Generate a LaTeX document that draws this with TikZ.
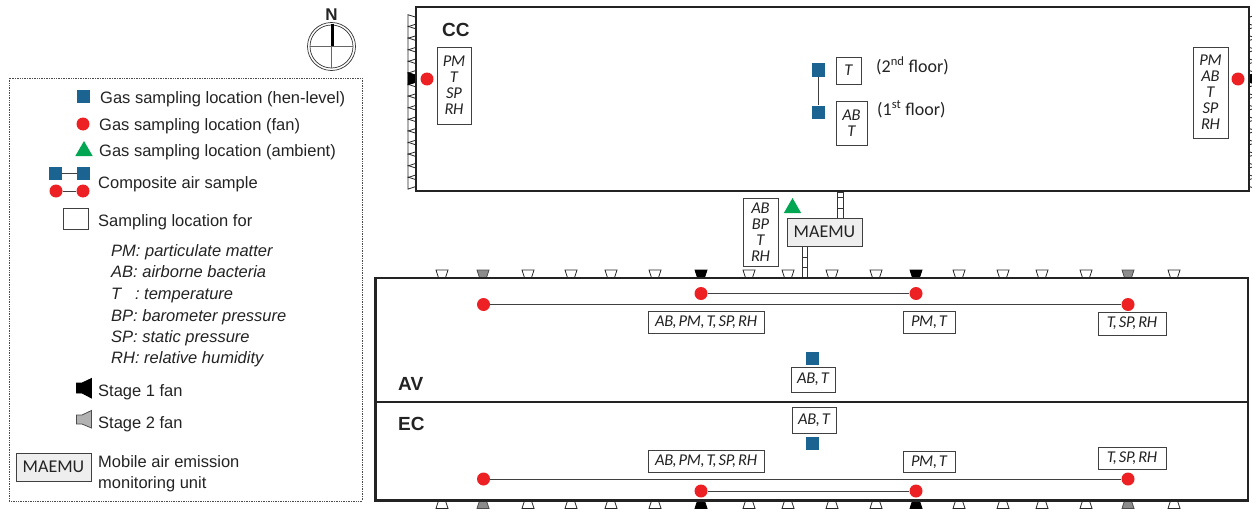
\documentclass[tikz,border=0pt]{standalone}
\usepackage{fontspec}
\setmainfont{Liberation Sans}
\newfontfamily\calfont[WordSpace=0.55, LetterSpace=-2]{Carlito}
\newfontfamily\calwide{Carlito}
\usetikzlibrary{shapes.geometric}
\definecolor{henblue}{RGB}{27, 99, 145}
\definecolor{fanred}{RGB}{237, 32, 36}
\definecolor{ambgreen}{RGB}{0, 166, 81}
\definecolor{inktext}{RGB}{35, 35, 35}
\definecolor{wallink}{RGB}{35, 35, 35}
\definecolor{unitgray}{RGB}{238, 238, 238}
\tikzset{
    wall/.style={draw=wallink, line width=2.2pt},
    partition/.style={draw=wallink, line width=1.7pt},
    henpt/.style={rectangle, fill=henblue, minimum size=13, inner sep=0},
    fanpt/.style={circle, fill=fanred, minimum size=13, inner sep=0},
    ambpt/.style={regular polygon, regular polygon sides=3, fill=ambgreen, minimum size=20, inner sep=0},
    link/.style={draw=black!75, line width=0.9pt},
    tagbox/.style={draw=black!75, line width=0.8pt, inner sep=0, align=center, text=inktext,
        font=\calfont\itshape\fontsize{16.5}{16}\selectfont},
    unitbox/.style={draw=black!75, fill=unitgray, line width=0.8pt, inner sep=0, text=inktext,
        font=\calwide\fontsize{18}{18}\selectfont},
    legtext/.style={anchor=base west, inner sep=0, text=inktext, font=\fontsize{16.5}{16.5}\selectfont},
    legital/.style={legtext, font=\itshape\fontsize{16.5}{16.5}\selectfont},
    floortext/.style={anchor=base west, inner sep=0, text=inktext, font=\calwide\fontsize{18}{18}\selectfont},
    housename/.style={anchor=base west, inner sep=0, text=wallink, font=\bfseries\fontsize{19}{19}\selectfont},
    fanoff/.style={draw=black!85, fill=white, line width=0.8pt},
    fanone/.style={draw=black, fill=black, line width=0.8pt},
    fantwo/.style={draw=black!70, fill=black!45, line width=0.8pt},
    duct/.style={draw=black!80, fill=white, line width=0.7pt},
    fanunit/.pic={\path[pic actions] (-6,-8) -- (6,-8) -- (3.4,0) -- (-3.4,0) -- cycle;}
}
\begin{document}
\begin{tikzpicture}[x=1pt, y=-1pt]
    \useasboundingbox (0,0) rectangle (1252,511);
    % Fans on the long walls
    \foreach \xfan in {442,528,571,611,655,749,788,832,876,959,1003,1042,1086,1174} {
        \pic[fanoff] at (\xfan,278) {fanunit};
        \pic[fanoff, rotate=180] at (\xfan,500.5) {fanunit};
    }
    \foreach \xfan in {483,1128} {
        \pic[fantwo] at (\xfan,278) {fanunit};
        \pic[fantwo, rotate=180] at (\xfan,500.5) {fanunit};
    }
    \foreach \xfan in {701,916} {
        \pic[fanone] at (\xfan,278) {fanunit};
        \pic[fanone, rotate=180] at (\xfan,500.5) {fanunit};
    }
    % Fans on the CC end walls
    \foreach \nfan in {0,...,14} {
        \pic[fanoff, rotate=90]  at (416,20.7+11.6*\nfan) {fanunit};
        \pic[fanoff, rotate=-90] at (1249,20.7+11.6*\nfan) {fanunit};
    }
    \pic[fanone, rotate=90]  at (416,78.7) {fanunit};
    \pic[fanone, rotate=-90] at (1249,78.7) {fanunit};
    % Ducts to the mobile unit
    \draw[duct] (837,192) rectangle (843.5,218);
    \draw[duct] (837,197.5) -- (843.5,197.5) (837,208) -- (843.5,208);
    \draw[duct] (802,246) rectangle (807.5,277);
    \draw[duct] (802,257) -- (807.5,257) (802,267) -- (807.5,267);
    % Houses
    \draw[wall] (416,7) rectangle (1249,191);
    \draw[wall] (375.5,278) rectangle (1248,500.5);
    \draw[partition] (375.5,402) -- (1248,402);
    \node[housename] (nameCC) at (442,37)  {CC};
    \node[housename] (nameAV) at (398,390) {AV};
    \node[housename] (nameEC) at (398,430) {EC};
    % CC samples
    \node[fanpt] (ccwest) at (427,79) {};
    \node[fanpt] (cceast) at (1238,79) {};
    \node[tagbox, minimum width=34, minimum height=77] (tagccwest) at (454,85.5) {PM\\T\\SP\\RH};
    \node[tagbox, minimum width=35, minimum height=91] (tagcceast) at (1210.5,92.5) {PM\\AB\\T\\SP\\RH};
    \node[henpt] (ccupper) at (818,70) {};
    \node[henpt] (cclower) at (818,112) {};
    \draw[link] (ccupper) -- (cclower);
    \node[tagbox, minimum width=25, minimum height=27] (tagccupper) at (848.5,70.5) {T};
    \node[tagbox, minimum width=31, minimum height=44] (tagcclower) at (851.5,123) {AB\\T};
    \node[floortext] (floortwo) at (876,72)  {(2\textsuperscript{nd} floor)};
    \node[floortext] (floorone) at (877,115) {(1\textsuperscript{st} floor)};
    % Ambient
    \node[ambpt] (ambient) at (792.5,208) {};
    \node[tagbox, minimum width=35, minimum height=68] (tagambient) at (760.5,232) {AB\\BP\\T\\RH};
    \node[unitbox, minimum width=75, minimum height=28] (unitmain) at (824.5,232) {MAEMU};
    % AV samples
    \node[fanpt] (avinwest) at (701,293.5) {};
    \node[fanpt] (avineast) at (916,293.5) {};
    \node[fanpt] (avoutwest) at (483.5,304.5) {};
    \node[fanpt] (avouteast) at (1128,304.5) {};
    \draw[link] (avinwest) -- (avineast);
    \draw[link] (avoutwest) -- (avouteast);
    \node[tagbox, minimum width=116, minimum height=22] (tagavwest) at (706,322) {AB, PM, T, SP, RH};
    \node[tagbox, minimum width=52, minimum height=22] (tagavmid) at (929,322) {PM, T};
    \node[tagbox, minimum width=68, minimum height=23] (tagaveast) at (1132,323.5) {T, SP, RH};
    \node[henpt] (avhen) at (812,358) {};
    \node[tagbox, minimum width=44, minimum height=25] (tagavhen) at (813,379.5) {AB, T};
    % EC samples
    \node[fanpt] (ecinwest) at (701,491) {};
    \node[fanpt] (ecineast) at (916,491) {};
    \node[fanpt] (ecoutwest) at (483.5,479) {};
    \node[fanpt] (ecouteast) at (1128,479) {};
    \draw[link] (ecinwest) -- (ecineast);
    \draw[link] (ecoutwest) -- (ecouteast);
    \node[tagbox, minimum width=116, minimum height=22] (tagecwest) at (706,461.5) {AB, PM, T, SP, RH};
    \node[tagbox, minimum width=52, minimum height=21] (tagecmid) at (929,462) {PM, T};
    \node[tagbox, minimum width=68, minimum height=22] (tageceast) at (1132,458.5) {T, SP, RH};
    \node[henpt] (echen) at (812,443) {};
    \node[tagbox, minimum width=44, minimum height=26] (tagechen) at (814,420) {AB, T};
    % North mark
    \draw[draw=black!80, line width=0.7pt] (331.5,46.5) circle (24);
    \draw[draw=black!80, line width=0.7pt] (331.5,46.5) circle (21.5);
    \draw[draw=black!60, line width=0.6pt] (310,46.5) -- (353,46.5) (331.5,46.5) -- (331.5,68);
    \draw[draw=black, line width=3pt] (332,24) -- (332,46.5);
    \node[inner sep=0, font=\bfseries\fontsize{17}{17}\selectfont, text=wallink] (north) at (331.5,14.5) {N};
    % Legend
    \draw[draw=black!70, line width=0.7pt, densely dotted] (9,78) rectangle (362,501);
    \node[henpt] (keyhen) at (83,96) {};
    \node[legtext] (txthen) at (100,103) {Gas sampling location (hen-level)};
    \node[fanpt] (keyfan) at (83,124) {};
    \node[legtext] (txtfan) at (99,130) {Gas sampling location (fan)};
    \node[ambpt] (keyamb) at (84,151) {};
    \node[legtext] (txtamb) at (99,156) {Gas sampling location (ambient)};
    \node[henpt] (keyhenleft) at (55.5,173) {};
    \node[henpt] (keyhenright) at (83.5,173) {};
    \node[fanpt] (keyfanleft) at (56,191) {};
    \node[fanpt] (keyfanright) at (83,191) {};
    \draw[link] (keyhenleft) -- (keyhenright);
    \draw[link] (keyfanleft) -- (keyfanright);
    \node[legtext] (txtcomp) at (98,188.5) {Composite air sample};
    \node[draw=black!75, line width=0.8pt, minimum width=25, minimum height=21, inner sep=0] (keybox) at (75.5,218.5) {};
    \node[legtext] (txtbox) at (98,226.5) {Sampling location for};
    \node[legital] (txtpm) at (111,256.5) {PM: particulate matter};
    \node[legital] (txtab) at (111,277) {AB: airborne bacteria};
    \node[legital] (txtt)  at (111,299) {T \ \ : temperature};
    \node[legital] (txtbp) at (111,321) {BP: barometer pressure};
    \node[legital] (txtsp) at (111,342) {SP: static pressure};
    \node[legital] (txtrh) at (111,363) {RH: relative humidity};
    \draw[fanone] (76.5,383) -- (82,383) -- (91.5,378.5) -- (91.5,398) -- (82,393) -- (76.5,393) -- cycle;
    \node[legtext] (txtone) at (98,396) {Stage 1 fan};
    \draw[fantwo, fill=black!30] (76.5,415) -- (82,415) -- (91.5,410.5) -- (91.5,428) -- (82,424) -- (76.5,424) -- cycle;
    \node[legtext] (txttwo) at (98,428) {Stage 2 fan};
    \node[unitbox, minimum width=75, minimum height=28] (unitkey) at (53.5,467) {MAEMU};
    \node[legtext] (txtunita) at (98,467) {Mobile air emission};
    \node[legtext] (txtunitb) at (98,488) {monitoring unit};
\end{tikzpicture}
\end{document}
